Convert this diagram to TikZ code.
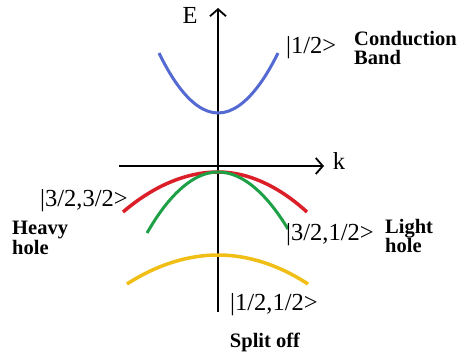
\documentclass[tikz,border=0pt]{standalone}
\usepackage{fontspec}
\setmainfont{Liberation Serif}
\usetikzlibrary{arrows.meta}
\definecolor{cband}{RGB}{85,105,210}
\definecolor{hhole}{RGB}{220,30,40}
\definecolor{lhole}{RGB}{30,160,70}
\definecolor{soff}{RGB}{240,190,20}
\tikzset{
  axis/.style={line width=1.6pt,-{Straight Barb[length=7pt,width=16pt,line width=1.8pt]}},
  band/.style={line width=3pt},
  ket/.style={font=\fontsize{24.5}{24.5}\selectfont, inner sep=0pt},
  lbl/.style={font=\fontsize{20.5}{19.5}\selectfont\bfseries, inner sep=0pt, align=left},
}
\begin{document}
\begin{tikzpicture}[x=1pt,y=-1pt]
\useasboundingbox[fill=white] (0,0) rectangle (460,360);
\coordinate (ybot) at (218,312);
\coordinate (ytop) at (218,8);
\coordinate (xl) at (119,166);
\coordinate (xr) at (324,166);
\draw[axis] (ybot) -- (ytop);
\draw[axis] (xl) -- (xr);
\node[ket] (E) at (190,15) {E};
\node[ket] (k) at (339,161) {k};
% bands
\draw[band,cband] (159,53) parabola bend (218,113) (278,53);
\draw[band,hhole,line width=3.5pt] (123,212) parabola bend (218,172) (307,212);
\draw[band,lhole] (147,233) parabola bend (218,172) (288,229);
\draw[band,soff,line width=3.5pt] (127,284) parabola bend (218,255) (308,284);
% labels
\node[ket,anchor=west] (k1) at (286,48) {|1/2>};
\node[lbl,anchor=west] (cb) at (354,48) {Conduction\\Band};
\node[ket,anchor=west] (k2) at (40,201) {|3/2,3/2>};
\node[lbl,anchor=west] (hh) at (12,238) {Heavy\\hole};
\node[ket,anchor=west] (k3) at (286,235) {|3/2,1/2>};
\node[lbl,anchor=west] (lh) at (385,236) {Light\\hole};
\node[ket,anchor=west] (k4) at (230,305) {|1/2,1/2>};
\node[lbl] (so) at (265,342) {Split off};
\end{tikzpicture}
\end{document}
